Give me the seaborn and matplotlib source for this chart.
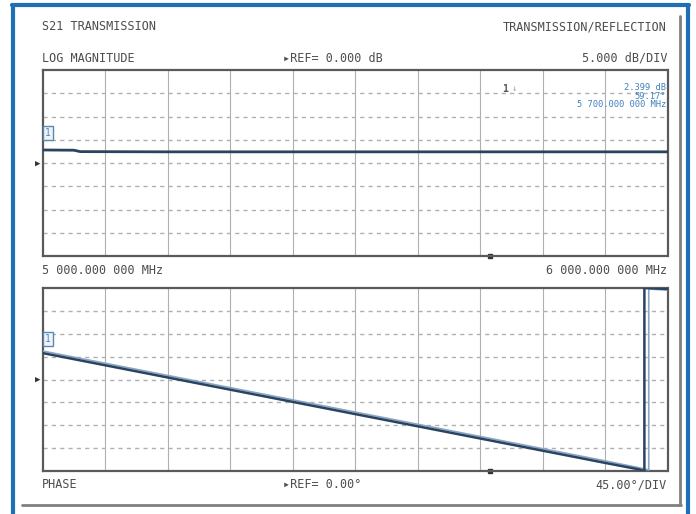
import matplotlib
matplotlib.use("Agg")
import matplotlib.pyplot as plt
import seaborn as sns
import pandas as pd
from matplotlib.lines import Line2D

sns.set_theme(style="white")
plt.rcParams['font.family'] = ['DejaVu Sans Mono', 'DejaVu Sans']

# ---- data ----
freq_mag = [5.00, 5.05, 5.06, 5.20, 5.40, 5.60, 5.80, 5.95, 6.00]          # GHz
mag_db = [2.8, 2.75, 2.45, 2.4, 2.4, 2.4, 2.4, 2.4, 2.4]                   # dB

freq_phase = [5.00, 5.10, 5.20, 5.30, 5.40, 5.50, 5.60, 5.70, 5.80, 5.90, 5.955, 5.963, 5.963, 6.00]
phase_deg = [52, 28, 4, -20, -44, -68, -92, -116, -140, -164, -177, -180, 180, 178]
freq_phase_mem = [5.00, 5.10, 5.20, 5.30, 5.40, 5.50, 5.60, 5.70, 5.80, 5.90, 5.960, 5.970, 5.970, 6.00]
phase_mem_deg = [56, 32, 8, -16, -40, -64, -88, -112, -136, -160, -175, -178, 178, 176]

header_left = "S21 TRANSMISSION"
header_right = "TRANSMISSION/REFLECTION"
top_labels = ["LOG MAGNITUDE", "\u25b8REF= 0.000 dB", "5.000 dB/DIV"]
mid_labels = ["5 000.000 000 MHz", "6 000.000 000 MHz"]
bot_labels = ["PHASE", "\u25b8REF= 0.00\u00b0", "45.00\u00b0/DIV"]
marker_text = ["2.399 dB", "59.17\u00b0", "5 700.000 000 MHz"]

W, H = 696, 514
fig = plt.figure(figsize=(W / 100, H / 100), dpi=100)
fig.patch.set_facecolor("white")

def fx(px):
    return px / W

def fy(py):
    return 1 - py / H

# frame decorations
blue = "#1f6fb4"
fig.add_artist(Line2D([fx(13), fx(13)], [0, fy(5)], color=blue, lw=3, transform=fig.transFigure))
fig.add_artist(Line2D([fx(688), fx(688)], [0, fy(5)], color=blue, lw=3, transform=fig.transFigure))
fig.add_artist(Line2D([fx(12), fx(689)], [fy(5), fy(5)], color=blue, lw=3, transform=fig.transFigure))
fig.add_artist(Line2D([fx(680), fx(680)], [fy(505), fy(16)], color="#808080", lw=2.0, transform=fig.transFigure))
fig.add_artist(Line2D([fx(22), fx(681)], [fy(505), fy(505)], color="#808080", lw=2.0, transform=fig.transFigure))

L, R = 42.7, 667.5
ax1 = fig.add_axes([fx(L), fy(256), fx(R - L), (256 - 70) / H])
ax2 = fig.add_axes([fx(L), fy(471), fx(R - L), (471 - 288) / H])

df_mag = pd.DataFrame({"f": freq_mag, "v": mag_db})
df_ph = pd.DataFrame({"f": freq_phase, "v": phase_deg})
df_pm = pd.DataFrame({"f": freq_phase_mem, "v": phase_mem_deg})

trace = "#2a4360"
light = "#8aa6c4"
gridc = "#b0b0b0"

for ax, ylim, step in [(ax1, (-20, 20), 5), (ax2, (-180, 180), 45)]:
    ax.set_xlim(5.0, 6.0)
    ax.set_ylim(*ylim)
    ax.set_facecolor("white")
    for i in range(1, 10):
        ax.axvline(5.0 + i * 0.1, color=gridc, lw=0.8, zorder=1)
    for j in range(1, 8):
        ax.axhline(ylim[0] + j * step, color=gridc, lw=1.0, ls=(0, (3, 3)), zorder=1)

sns.lineplot(data=df_mag, x="f", y="v", ax=ax1, color=trace, lw=2.0, sort=False,
             estimator=None, zorder=3)
sns.lineplot(data=df_pm, x="f", y="v", ax=ax2, color=light, lw=1.2, sort=False,
             estimator=None, zorder=3)
sns.lineplot(data=df_ph, x="f", y="v", ax=ax2, color=trace, lw=1.8, sort=False,
             estimator=None, zorder=4)

for ax, ylim in [(ax1, (-20, 20)), (ax2, (-180, 180))]:
    ax.set_xlim(5.0, 6.0)
    ax.set_ylim(*ylim)
    ax.set_xticks([])
    ax.set_yticks([])
    ax.set_xlabel("")
    ax.set_ylabel("")
    for s in ax.spines.values():
        s.set_color("#5a5a5a")
        s.set_linewidth(1.6)
        s.set_visible(True)

# reference arrows and marker boxes
for ax in (ax1, ax2):
    ax.annotate("\u25b6", xy=(0, 0.5), xycoords="axes fraction", xytext=(-2, 0),
                textcoords="offset points", ha="right", va="center", fontsize=6.5, color="#333333")
    ax.text(0.004, 0.66 if ax is ax1 else 0.72, "1", transform=ax.transAxes, fontsize=7,
            color="#5b87b5", ha="left", va="center",
            bbox=dict(boxstyle="square,pad=0.2", fc="#eef4fa", ec="#5b87b5", lw=1))
    ax.plot([0.716], [0], marker="s", ms=3, color="#333333", transform=ax.transAxes, clip_on=False)

# marker readout
ax1.text(0.735, 0.90, "1", transform=ax1.transAxes, fontsize=7, color="#555555",
         fontweight="bold", va="center")
ax1.text(0.750, 0.90, "\u2193", transform=ax1.transAxes, fontsize=6.5, color=light, va="center")
ax1.text(0.998, 0.905, marker_text[0], transform=ax1.transAxes, fontsize=6.3, color="#3f7fbf",
         ha="right", va="center")
ax1.text(0.998, 0.860, marker_text[1], transform=ax1.transAxes, fontsize=6.3, color="#3f7fbf",
         ha="right", va="center")
ax1.text(0.998, 0.815, marker_text[2], transform=ax1.transAxes, fontsize=6.3, color="#3f7fbf",
         ha="right", va="center")

tc = "#4d4d4d"
fs = 8.5
fig.text(fx(42), fy(27), header_left, fontsize=fs, color=tc, va="center", ha="left")
fig.text(fx(667), fy(27), header_right, fontsize=fs, color=tc, va="center", ha="right")
fig.text(fx(42), fy(58), top_labels[0], fontsize=fs, color=tc, va="center", ha="left")
fig.text(fx(283), fy(58), top_labels[1], fontsize=fs, color=tc, va="center", ha="left")
fig.text(fx(667), fy(58), top_labels[2], fontsize=fs, color=tc, va="center", ha="right")
fig.text(fx(42), fy(271), mid_labels[0], fontsize=fs, color=tc, va="center", ha="left")
fig.text(fx(667), fy(271), mid_labels[1], fontsize=fs, color=tc, va="center", ha="right")
fig.text(fx(42), fy(485), bot_labels[0], fontsize=fs, color=tc, va="center", ha="left")
fig.text(fx(283), fy(485), bot_labels[1], fontsize=fs, color=tc, va="center", ha="left")
fig.text(fx(667), fy(485), bot_labels[2], fontsize=fs, color=tc, va="center", ha="right")

fig.savefig("out.png", dpi=100, facecolor="white")
